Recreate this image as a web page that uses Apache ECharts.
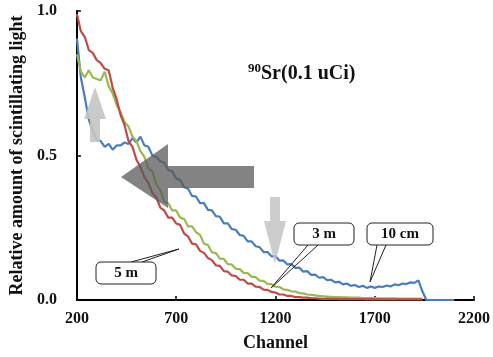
<!DOCTYPE html>
<html>
<head>
<meta charset="utf-8">
<script src="https://cdn.jsdelivr.net/npm/echarts@6/dist/echarts.min.js"></script>
<style>
html,body{margin:0;padding:0;background:#fff;}
#chart{width:493px;height:357px;}
</style>
</head>
<body>
<div id="chart"></div>
<script>
// Channel grid of the sampled spectra
const channelStart = 200;
const channelStep = 20;

// Relative amount of scintillating light, 10 cm (blue)
const blue10cm = [0.905,0.77,0.70,0.625,0.585,0.555,0.55,0.53,0.54,0.52,
  0.535,0.535,0.545,0.54,0.56,0.545,0.565,0.535,0.53,0.50,
  0.495,0.48,0.475,0.45,0.445,0.42,0.415,0.39,0.385,0.36,
  0.358,0.335,0.335,0.312,0.31,0.29,0.288,0.265,0.265,0.245,
  0.243,0.225,0.222,0.203,0.203,0.186,0.183,0.166,0.166,0.151,
  0.152,0.136,0.137,0.123,0.124,0.111,0.112,0.098,0.10,0.087,
  0.088,0.077,0.079,0.069,0.07,0.061,0.063,0.054,0.057,0.049,
  0.052,0.045,0.049,0.042,0.047,0.042,0.047,0.045,0.05,0.047,
  0.054,0.051,0.057,0.055,0.061,0.059,0.068,0.03,0,0,
  0,0,0,0,0,0];

// 3 m (green)
const green3m = [0.85,0.79,0.77,0.795,0.77,0.765,0.76,0.79,0.74,0.715,
  0.675,0.65,0.615,0.60,0.565,0.55,0.515,0.495,0.455,0.445,
  0.40,0.38,0.34,0.335,0.31,0.31,0.285,0.28,0.255,0.255,
  0.235,0.225,0.195,0.19,0.165,0.162,0.143,0.142,0.124,0.123,
  0.108,0.107,0.094,0.093,0.08,0.079,0.067,0.066,0.056,0.055,
  0.046,0.045,0.037,0.035,0.03,0.029,0.024,0.023,0.019,0.018,
  0.016,0.014,0.013,0.012,0.011,0.01,0.01,0.009,0.009,0.008,
  0.008,0.008,0.007,0.007,0.007,0.007,0.006,0.006,0.006,0.006,
  0.006,0.005,0.005,0.005,0.005,0.005,0.005,0.005];

// 5 m (red)
const red5m = [0.99,0.93,0.91,0.865,0.855,0.83,0.82,0.80,0.795,0.735,
  0.695,0.64,0.605,0.55,0.53,0.485,0.46,0.425,0.405,0.37,
  0.355,0.32,0.31,0.285,0.285,0.265,0.26,0.23,0.22,0.195,
  0.193,0.17,0.163,0.145,0.138,0.12,0.118,0.10,0.098,0.085,
  0.083,0.07,0.07,0.057,0.057,0.046,0.045,0.036,0.035,0.028,
  0.026,0.019,0.019,0.014,0.014,0.01,0.01,0.008,0.008,0.006,
  0.006,0.005,0.004,0.005,0.004,0.004,0.003,0.004,0.003,0.003,
  0.003,0.003,0.003,0.002,0.003,0.002,0.002,0.002,0.002,0.002,
  0.002,0.002,0.002,0.002,0.002,0.002,0.002,0.002];

const xTicks = [200, 700, 1200, 1700, 2200];
const yTicks = [0.0, 0.5, 1.0];
const seriesNames = ['10 cm', '3 m', '5 m'];

function toPairs(vals){
  return vals.map((v,i)=>[channelStart + i*channelStep, v]);
}

const FONT = "'Liberation Serif','Times New Roman',serif";
const chart = echarts.init(document.getElementById('chart'), null, {renderer:'canvas'});

const option = {
  animation:false,
  backgroundColor:'#fff',
  grid:{left:68, right:19, top:11, bottom:54},
  xAxis:{
    type:'value', min:xTicks[0], max:xTicks[xTicks.length-1], interval:500,
    name:'Channel', nameLocation:'middle', nameGap:34,
    nameTextStyle:{fontFamily:FONT, fontWeight:'bold', fontSize:18, color:'#111'},
    axisLine:{show:true, lineStyle:{color:'#000', width:2}},
    axisTick:{show:true, inside:true, length:4, lineStyle:{color:'#000', width:1.5}},
    axisLabel:{fontFamily:FONT, fontWeight:'bold', fontSize:16, color:'#111', margin:11,
      formatter:v=>String(v)},
    splitLine:{show:false}
  },
  yAxis:{
    type:'value', min:yTicks[0], max:yTicks[yTicks.length-1], interval:0.5,
    name:'Relative amount of scintillating light', nameLocation:'middle', nameGap:45,
    nameTextStyle:{fontFamily:FONT, fontWeight:'bold', fontSize:18, color:'#111'},
    axisLine:{show:true, lineStyle:{color:'#000', width:2}},
    axisTick:{show:true, inside:true, length:4, lineStyle:{color:'#000', width:1.5}},
    axisLabel:{fontFamily:FONT, fontWeight:'bold', fontSize:16, color:'#111', margin:20,
      formatter:v=>v.toFixed(1)},
    splitLine:{show:false}
  },
  series:[
    {name:seriesNames[0], type:'line', data:toPairs(blue10cm), showSymbol:false, symbol:'none',
      lineStyle:{color:'#4a7ebb', width:2.2}, z:2},
    {name:seriesNames[1], type:'line', data:toPairs(green3m), showSymbol:false, symbol:'none',
      lineStyle:{color:'#98b954', width:2.2}, z:3},
    {name:seriesNames[2], type:'line', data:toPairs(red5m), showSymbol:false, symbol:'none',
      lineStyle:{color:'#be4b48', width:2.2}, z:4}
  ],
  graphic:[
    // light up arrow
    {type:'polygon', z:10, shape:{points:[[95,87],[106,119],[100,119],[100,142],[90,142],[90,119],[84,119]]},
      style:{fill:'#c4c4c4', opacity:0.9}},
    // light down arrow
    {type:'polygon', z:10, shape:{points:[[270,197],[280,197],[280,221],[286,221],[275,264],[264,221],[270,221]]},
      style:{fill:'#c4c4c4', opacity:0.85}},
    // big dark left arrow
    {type:'polygon', z:11, shape:{points:[[121,177],[168,144],[168,166],[254,166],[254,188],[168,188],[168,208]]},
      style:{fill:'#5a5a5a', opacity:0.75}},
    // title
    {type:'text', z:12, left:248, top:62, style:{text:'90', font:"bold 13px 'Liberation Serif','Times New Roman',serif", fill:'#111'}},
    {type:'text', z:12, left:261, top:64, style:{text:'Sr(0.1 uCi)', font:"bold 20px 'Liberation Serif','Times New Roman',serif", fill:'#111'}},
    // callout 5 m
    {type:'polyline', z:12, shape:{points:[[131,262],[179,249],[142,262]]}, style:{stroke:'#222', lineWidth:1, fill:null}},
    {type:'rect', z:13, shape:{x:96, y:262, width:60, height:22, r:5}, style:{fill:'#fff', stroke:'#222', lineWidth:1}},
    {type:'text', z:14, x:126, y:273, style:{text:'5 m', font:"bold 15px 'Liberation Serif','Times New Roman',serif", fill:'#111', textAlign:'center', textVerticalAlign:'middle'}},
    // callout 3 m
    {type:'polyline', z:12, shape:{points:[[308,245],[271,288],[318,245]]}, style:{stroke:'#222', lineWidth:1, fill:null}},
    {type:'rect', z:13, shape:{x:294, y:223, width:60, height:22, r:5}, style:{fill:'#fff', stroke:'#222', lineWidth:1}},
    {type:'text', z:14, x:324, y:234, style:{text:'3 m', font:"bold 15px 'Liberation Serif','Times New Roman',serif", fill:'#111', textAlign:'center', textVerticalAlign:'middle'}},
    // callout 10 cm
    {type:'polyline', z:12, shape:{points:[[377,245],[370,282],[386,245]]}, style:{stroke:'#222', lineWidth:1, fill:null}},
    {type:'rect', z:13, shape:{x:367, y:223, width:66, height:22, r:5}, style:{fill:'#fff', stroke:'#222', lineWidth:1}},
    {type:'text', z:14, x:400, y:234, style:{text:'10 cm', font:"bold 15px 'Liberation Serif','Times New Roman',serif", fill:'#111', textAlign:'center', textVerticalAlign:'middle'}}
  ]
};
chart.setOption(option);
</script>
</body>
</html>
